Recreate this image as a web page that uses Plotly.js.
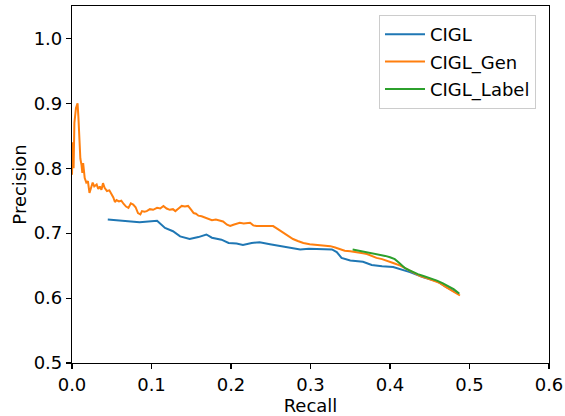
<!DOCTYPE html>
<html>
<head>
<meta charset="utf-8">
<script src="https://cdn.plot.ly/plotly-3.0.1.min.js"></script>
<style>html,body{margin:0;padding:0;background:#fff;}#chart{width:565px;height:416px;}</style>
</head>
<body>
<div id="chart"></div>
<script>
const seriesNames = ["CIGL", "CIGL_Gen", "CIGL_Label"];
const seriesColors = ["#1f77b4", "#ff7f0e", "#2ca02c"];

const ciglRecall = [0.045,0.065,0.085,0.107,0.117,0.127,0.136,0.148,0.159,0.169,0.176,0.188,0.197,0.207,0.215,0.226,0.236,0.249,0.262,0.270,0.280,0.287,0.298,0.310,0.320,0.327,0.333,0.339,0.350,0.366,0.377,0.390,0.404,0.413,0.425,0.442,0.459,0.471,0.487];
const ciglPrecision = [0.721,0.719,0.717,0.719,0.708,0.703,0.695,0.691,0.694,0.698,0.693,0.690,0.685,0.684,0.682,0.685,0.686,0.683,0.680,0.679,0.677,0.675,0.676,0.676,0.675,0.675,0.671,0.662,0.658,0.656,0.651,0.649,0.648,0.645,0.640,0.632,0.626,0.617,0.606];

const genRecall = [0.000,0.001,0.002,0.003,0.005,0.007,0.008,0.0095,0.0105,0.012,0.013,0.014,0.016,0.018,0.020,0.022,0.024,0.026,0.028,0.031,0.033,0.035,0.037,0.039,0.041,0.044,0.047,0.050,0.052,0.054,0.056,0.059,0.062,0.065,0.068,0.071,0.074,0.077,0.080,0.083,0.086,0.088,0.091,0.094,0.098,0.102,0.107,0.111,0.115,0.119,0.123,0.127,0.130,0.134,0.138,0.142,0.146,0.150,0.153,0.156,0.159,0.163,0.167,0.171,0.176,0.181,0.186,0.190,0.195,0.199,0.203,0.207,0.211,0.216,0.220,0.224,0.228,0.232,0.238,0.245,0.249,0.253,0.258,0.262,0.266,0.270,0.274,0.278,0.284,0.291,0.299,0.308,0.316,0.325,0.331,0.337,0.343,0.350,0.358,0.366,0.371,0.377,0.383,0.390,0.396,0.404,0.413,0.421,0.429,0.438,0.446,0.455,0.463,0.469,0.475,0.481,0.488];
const genPrecision = [0.790,0.840,0.800,0.870,0.893,0.900,0.880,0.845,0.815,0.805,0.793,0.808,0.785,0.778,0.780,0.762,0.770,0.778,0.772,0.775,0.768,0.772,0.767,0.777,0.770,0.765,0.766,0.760,0.755,0.748,0.751,0.749,0.750,0.745,0.741,0.739,0.746,0.744,0.740,0.731,0.729,0.734,0.733,0.734,0.737,0.736,0.739,0.738,0.742,0.738,0.736,0.737,0.734,0.738,0.742,0.741,0.742,0.736,0.731,0.730,0.727,0.726,0.724,0.723,0.720,0.721,0.719,0.718,0.713,0.711,0.713,0.714,0.716,0.715,0.716,0.716,0.712,0.711,0.711,0.711,0.710,0.711,0.707,0.704,0.701,0.698,0.695,0.691,0.688,0.685,0.683,0.682,0.681,0.680,0.678,0.676,0.673,0.672,0.670,0.669,0.668,0.665,0.662,0.660,0.657,0.654,0.650,0.645,0.639,0.634,0.631,0.627,0.623,0.618,0.613,0.609,0.604];

const labelRecall = [0.353,0.362,0.371,0.380,0.387,0.394,0.400,0.406,0.411,0.415,0.419,0.424,0.429,0.435,0.442,0.450,0.459,0.466,0.473,0.480,0.487];
const labelPrecision = [0.675,0.673,0.671,0.669,0.667,0.665,0.663,0.660,0.655,0.650,0.646,0.643,0.640,0.637,0.634,0.631,0.627,0.623,0.619,0.614,0.607];

const xTicks = [0, 0.1, 0.2, 0.3, 0.4, 0.5, 0.6];
const yTicks = [0.5, 0.6, 0.7, 0.8, 0.9, 1.0];

const xs = [ciglRecall, genRecall, labelRecall];
const ys = [ciglPrecision, genPrecision, labelPrecision];

const traces = seriesNames.map((n, i) => ({
  x: xs[i], y: ys[i], name: n, type: 'scatter', mode: 'lines',
  legendgroup: 'g' + i,
  line: {color: seriesColors[i], width: 2}
}));

const font = {family: 'DejaVu Sans, sans-serif', size: 18, color: '#000'};
const axisCommon = {
  showgrid: false, zeroline: false, showline: true, mirror: true,
  linecolor: '#000', linewidth: 1.1, ticks: 'outside', ticklen: 5,
  tickwidth: 1.1, tickcolor: '#000', tickfont: font, automargin: false
};

const layout = {
  width: 565, height: 416,
  margin: {l: 72, r: 16, t: 6, b: 53},
  paper_bgcolor: '#fff', plot_bgcolor: '#fff',
  font: font,
  showlegend: true,
  legend: {
    x: 0.6436, xanchor: 'left', y: 0.975, yanchor: 'top',
    bgcolor: 'rgba(255,255,255,0.8)', bordercolor: '#ccc', borderwidth: 1,
    font: font, tracegroupgap: 1, itemwidth: 40
  },
  xaxis: Object.assign({}, axisCommon, {
    range: [0, 0.6], tickvals: xTicks, tickformat: '.1f',
    title: {text: 'Recall', font: font, standoff: 0}
  }),
  yaxis: Object.assign({}, axisCommon, {
    range: [0.5, 1.05], tickvals: yTicks, tickformat: '.1f',
    title: {text: 'Precision', font: font, standoff: 2}
  })
};

Plotly.newPlot('chart', traces, layout, {staticPlot: true, displayModeBar: false});
</script>
</body>
</html>
